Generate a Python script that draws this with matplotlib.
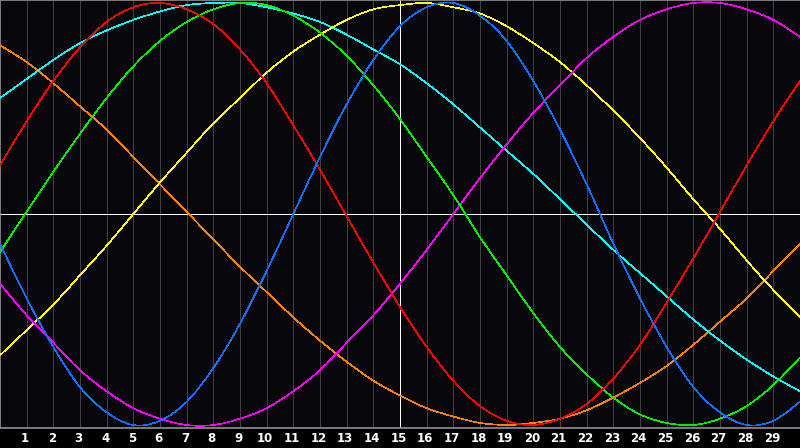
import matplotlib
matplotlib.use("Agg")
import matplotlib.pyplot as plt
from matplotlib.path import Path
from matplotlib.patches import PathPatch

days = list(range(0, 31))
tick_days = list(range(1, 30))

# values at each day (0..30), range -1..1
physical_blue = [-0.14, -0.40, -0.63, -0.82, -0.94, -1.00, -0.98, -0.89, -0.73, -0.52, -0.27,
                 0.00, 0.27, 0.52, 0.73, 0.89, 0.98, 1.00, 0.94, 0.82, 0.63, 0.40, 0.14,
                 -0.14, -0.40, -0.63, -0.82, -0.94, -1.00, -0.98, -0.89]
emotional_red = [0.23, 0.44, 0.63, 0.79, 0.91, 0.98, 1.00, 0.97, 0.90, 0.78, 0.62,
                 0.42, 0.21, -0.01, -0.23, -0.44, -0.63, -0.79, -0.91, -0.98, -1.00, -0.97,
                 -0.90, -0.78, -0.62, -0.42, -0.21, 0.01, 0.23, 0.44, 0.63]
intellectual_green = [-0.18, 0.01, 0.20, 0.38, 0.55, 0.70, 0.82, 0.91, 0.97, 1.00, 0.99,
                      0.94, 0.86, 0.75, 0.61, 0.45, 0.27, 0.09, -0.11, -0.29, -0.47, -0.63,
                      -0.76, -0.87, -0.95, -0.99, -1.00, -0.97, -0.91, -0.81, -0.68]
intuitive_magenta = [-0.33, -0.48, -0.61, -0.74, -0.84, -0.92, -0.97, -1.00, -1.00, -0.97, -0.92,
                     -0.84, -0.74, -0.61, -0.48, -0.33, -0.17, 0.00, 0.17, 0.33, 0.48, 0.61,
                     0.74, 0.84, 0.92, 0.97, 1.00, 1.00, 0.97, 0.92, 0.84]
aesthetic_yellow = [-0.67, -0.55, -0.43, -0.29, -0.15, 0.00, 0.15, 0.29, 0.43, 0.55, 0.67,
                    0.77, 0.85, 0.92, 0.97, 0.99, 1.00, 0.98, 0.95, 0.89, 0.81, 0.72,
                    0.61, 0.49, 0.36, 0.22, 0.07, -0.07, -0.22, -0.36, -0.49]
awareness_orange = [0.80, 0.72, 0.62, 0.51, 0.40, 0.27, 0.14, 0.01, -0.12, -0.25, -0.37,
                    -0.49, -0.60, -0.70, -0.79, -0.86, -0.92, -0.96, -0.99, -1.00, -0.99, -0.97,
                    -0.93, -0.87, -0.80, -0.72, -0.62, -0.51, -0.40, -0.27, -0.14]
spiritual_cyan = [0.55, 0.64, 0.73, 0.81, 0.87, 0.92, 0.96, 0.99, 1.00, 1.00, 0.98,
                  0.95, 0.91, 0.85, 0.78, 0.71, 0.62, 0.52, 0.41, 0.30, 0.19, 0.07,
                  -0.05, -0.17, -0.28, -0.39, -0.50, -0.60, -0.69, -0.77, -0.84]

series = [
    (awareness_orange, "#ff8000"),
    (spiritual_cyan, "#00ffff"),
    (aesthetic_yellow, "#ffff00"),
    (intuitive_magenta, "#ff00ff"),
    (intellectual_green, "#00ee00"),
    (emotional_red, "#ff0000"),
    (physical_blue, "#1070ff"),
]


def smooth_path(xs, ys):
    """Catmull-Rom style smooth rendering through the data points."""
    n = len(xs)
    verts = [(xs[0], ys[0])]
    codes = [Path.MOVETO]
    for i in range(n - 1):
        x0, y0 = (xs[i - 1], ys[i - 1]) if i > 0 else (xs[i], ys[i])
        x1, y1 = xs[i], ys[i]
        x2, y2 = xs[i + 1], ys[i + 1]
        x3, y3 = (xs[i + 2], ys[i + 2]) if i + 2 < n else (x2, y2)
        c1 = (x1 + (x2 - x0) / 6.0, y1 + (y2 - y0) / 6.0)
        c2 = (x2 - (x3 - x1) / 6.0, y2 - (y3 - y1) / 6.0)
        verts += [c1, c2, (x2, y2)]
        codes += [Path.CURVE4, Path.CURVE4, Path.CURVE4]
    return Path(verts, codes)


fig = plt.figure(figsize=(8.0, 4.48), dpi=100, facecolor="#000000")
ax = fig.add_axes([0.0, 20 / 448, 1.0, 428 / 448])
ax.set_facecolor("#07070b")
ax.set_xlim(0, 30)
ax.set_ylim(-1.0142, 1.0142)

for d in tick_days:
    if d == 15:
        continue
    ax.axvline(d, color="#404040", lw=0.5, antialiased=False, zorder=1)
ax.axvline(15, color="#ffffff", lw=0.5, antialiased=False, zorder=2)
ax.axhline(0, color="#ffffff", lw=0.5, antialiased=False, zorder=2)

for vals, col in series:
    patch = PathPatch(smooth_path(days, vals), facecolor="none", edgecolor=col,
                      lw=0.45, antialiased=False, zorder=3)
    ax.add_patch(patch)

ax.set_xticks([])
ax.set_yticks([])
for side in ["left", "top", "bottom"]:
    ax.spines[side].set_color("#909090")
    ax.spines[side].set_linewidth(1.2)
ax.spines["right"].set_visible(False)

for d in tick_days:
    fig.text((d * 800 / 30 - 1.5) / 800, 10 / 448, str(d), color="white", fontsize=8.5,
             fontweight="bold", ha="center", va="center", family="DejaVu Sans")

fig.savefig("out.png", dpi=100, facecolor=fig.get_facecolor())
